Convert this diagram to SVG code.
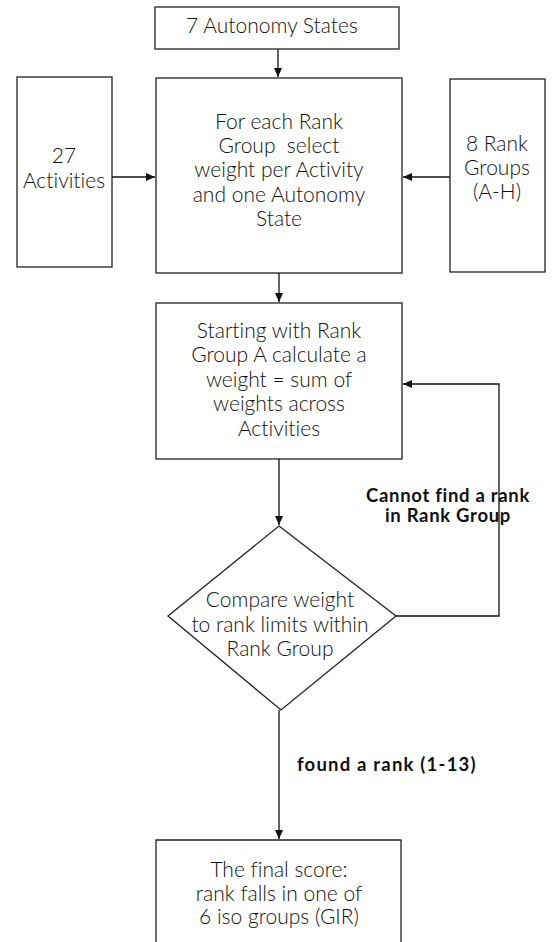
<svg xmlns="http://www.w3.org/2000/svg" width="560" height="942" viewBox="0 0 560 942">
<style>
.box{fill:#fff;stroke:#222;stroke-width:1.3}
.t{font-family:Lato,"Noto Sans","Liberation Sans",sans-serif;font-size:21px;font-weight:300;fill:#111;text-anchor:middle;font-variant-ligatures:none}
.lb{font-family:Lato,"Noto Sans","Liberation Sans",sans-serif;font-size:18.5px;font-weight:700;fill:#111;letter-spacing:0.7px;font-variant-ligatures:none}
.c{fill:none;stroke:#111;stroke-width:1.3}
</style>
<defs>
<marker id="ah" markerUnits="userSpaceOnUse" markerWidth="10" markerHeight="10" viewBox="0 0 10 10" refX="9" refY="5" orient="auto">
<path d="M0,1 L9,5 L0,9 Z" fill="#111"/>
</marker>
</defs>
<rect width="560" height="942" fill="#fff"/>
<g id="connectors">
<line class="c" x1="278" y1="49" x2="278" y2="77" marker-end="url(#ah)"/>
<line class="c" x1="112" y1="177" x2="155" y2="177" marker-end="url(#ah)"/>
<line class="c" x1="450" y1="177" x2="403" y2="177" marker-end="url(#ah)"/>
<line class="c" x1="279" y1="273" x2="279" y2="302" marker-end="url(#ah)"/>
<line class="c" x1="279" y1="459" x2="279" y2="525" marker-end="url(#ah)"/>
<polyline class="c" points="396,616 499,616 499,384 403,384" marker-end="url(#ah)"/>
<line class="c" x1="279" y1="710" x2="279" y2="839" marker-end="url(#ah)"/>
<text class="lb" x="448" y="502" text-anchor="middle">Cannot find a rank</text>
<text class="lb" x="448" y="522" text-anchor="middle">in Rank Group</text>
<text class="lb" x="297" y="771" style="letter-spacing:1.2px">found a rank (1-13)</text>
</g>
<g id="autonomy">
<rect class="box" x="155" y="7" width="244" height="42"/>
<text class="t" x="272" y="33">7 Autonomy States</text>
</g>
<g id="activities">
<rect class="box" x="17" y="77" width="95" height="190"/>
<text class="t" x="64" y="163">27</text>
<text class="t" x="64" y="188">Activities</text>
</g>
<g id="select">
<rect class="box" x="156" y="78" width="246" height="195"/>
<text class="t" x="279" y="129">For each Rank</text>
<text class="t" x="279" y="153" xml:space="preserve">Group  select</text>
<text class="t" x="279" y="177">weight per Activity</text>
<text class="t" x="279" y="202">and one Autonomy</text>
<text class="t" x="279" y="226">State</text>
</g>
<g id="rankgroups">
<rect class="box" x="450" y="79" width="95" height="193"/>
<text class="t" x="497" y="151">8 Rank</text>
<text class="t" x="497" y="175">Groups</text>
<text class="t" x="497" y="199">(A-H)</text>
</g>
<g id="calculate">
<rect class="box" x="156" y="303" width="246" height="156"/>
<text class="t" x="279" y="338">Starting with Rank</text>
<text class="t" x="279" y="362">Group A calculate a</text>
<text class="t" x="279" y="387">weight = sum of</text>
<text class="t" x="279" y="411">weights across</text>
<text class="t" x="279" y="436">Activities</text>
</g>
<g id="compare">
<polygon class="box" points="279,526 396,616 281,710 168,616"/>
<text class="t" x="280" y="607">Compare weight</text>
<text class="t" x="280" y="632">to rank limits within</text>
<text class="t" x="280" y="656">Rank Group</text>
</g>
<g id="final">
<path class="box" d="M156,943 V840 H401 V943"/>
<text class="t" x="279" y="877">The final score:</text>
<text class="t" x="279" y="901">rank falls in one of</text>
<text class="t" x="279" y="924">6 iso groups (GIR)</text>
</g>
</svg>
